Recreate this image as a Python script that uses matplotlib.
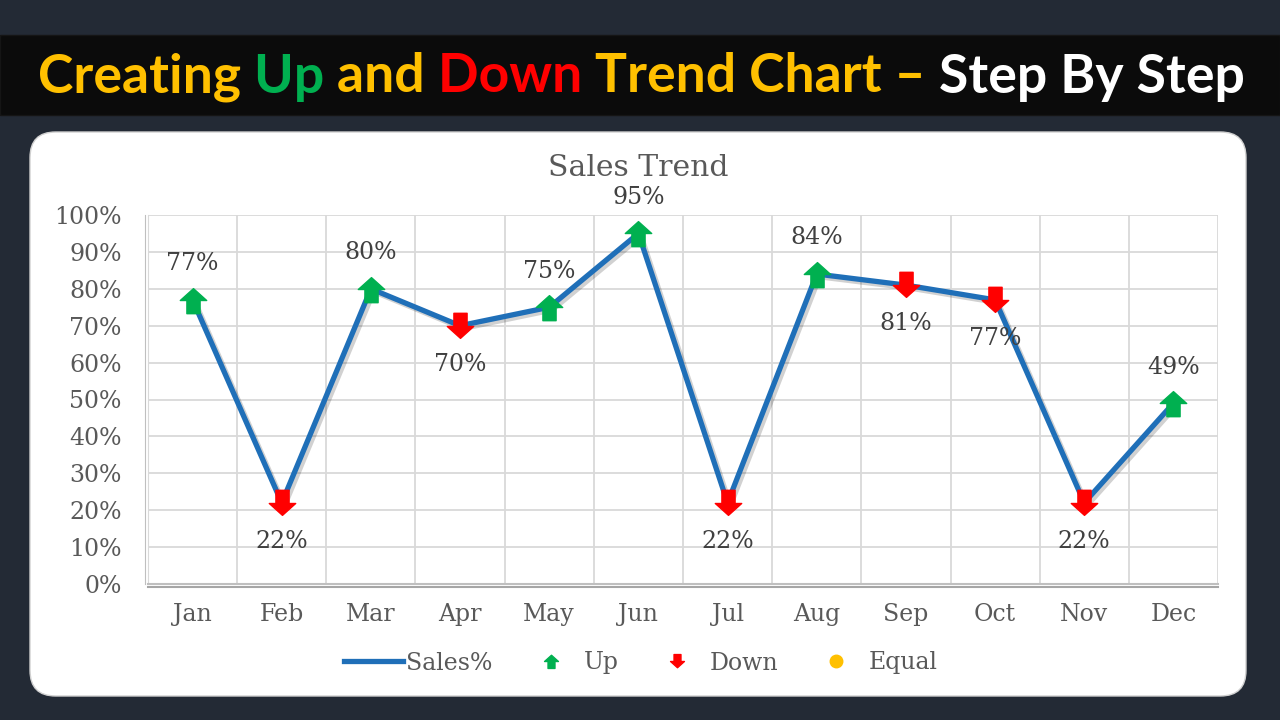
import numpy as np
import matplotlib
matplotlib.use('Agg')
import matplotlib.pyplot as plt
from matplotlib.path import Path
from matplotlib.lines import Line2D
from matplotlib.patches import FancyBboxPatch, Rectangle
import matplotlib.patheffects as pe

# data
months = ['Jan', 'Feb', 'Mar', 'Apr', 'May', 'Jun', 'Jul', 'Aug', 'Sep', 'Oct', 'Nov', 'Dec']
sales = [0.77, 0.22, 0.80, 0.70, 0.75, 0.95, 0.22, 0.84, 0.81, 0.77, 0.22, 0.49]
trend = ['Up', 'Down', 'Up', 'Down', 'Up', 'Up', 'Down', 'Up', 'Down', 'Down', 'Down', 'Up']
yticks = [0, 0.1, 0.2, 0.3, 0.4, 0.5, 0.6, 0.7, 0.8, 0.9, 1.0]

BG = '#232a35'
BLUE = '#1f6fb8'
GREEN = '#00b050'
RED = '#ff0000'
YELLOW = '#ffc000'
GREY_TXT = '#595959'
SERIF = 'DejaVu Serif'

# arrow markers
up_verts = [(-1.0, 0.0), (0.0, 0.9), (1.0, 0.0), (0.5, 0.0), (0.5, -1.0),
            (-0.5, -1.0), (-0.5, 0.0), (-1.0, 0.0)]
up_arrow = Path(up_verts, [Path.MOVETO] + [Path.LINETO] * 6 + [Path.CLOSEPOLY])
down_arrow = Path([(x, -y) for x, y in up_verts], up_arrow.codes)

fig = plt.figure(figsize=(12.8, 7.2), dpi=100)
fig.patch.set_facecolor(BG)

# banner
fig.patches.append(Rectangle((0, 1 - 115 / 720), 1, 80 / 720, transform=fig.transFigure,
                             facecolor='#0b0b0b', edgecolor='#151515', zorder=-2))

# white card
fig.patches.append(FancyBboxPatch((30 / 1280, 1 - 696 / 720), 1216 / 1280, 564 / 720,
                                  boxstyle='round,pad=0,rounding_size=0.02',
                                  transform=fig.transFigure, facecolor='white',
                                  edgecolor='#d0d0d0', linewidth=1, zorder=-2,
                                  mutation_aspect=1280 / 720))

# multi-colour headline, each word chained after the previous one
parts = [('Creating ', '#ffc000'), ('Up ', '#00b050'), ('and ', '#ffc000'),
         ('Down ', '#ff0000'), ('Trend Chart \u2013 ', '#ffc000'), ('Step By Step', 'white')]
head_kw = dict(fontsize=38.5, fontweight='bold', family='Lato', va='center', ha='left')
anchor = fig.text(38 / 1280, 1 - 77 / 720, parts[0][0], color=parts[0][1], **head_kw)
for word, col in parts[1:]:
    anchor = fig.add_artist(plt.Annotation(word, xy=(1, 0.5), xycoords=anchor,
                                           color=col, **head_kw))

# plot area
ax = fig.add_axes([148 / 1280, 1 - 584 / 720, 1070 / 1280, 369 / 720])
x = np.arange(len(months))
ax.set_xlim(-0.5, len(months) - 0.5)
ax.set_ylim(0, 1)

ax.set_yticks(yticks)
ax.set_yticklabels([f'{int(round(t * 100))}%' for t in yticks])
ax.set_xticks(x)
ax.set_xticklabels(months)
ax.set_xticks(np.arange(-0.5, len(months), 1), minor=True)
ax.grid(True, which='major', axis='y', color='#d9d9d9', linewidth=1.3)
ax.grid(True, which='minor', axis='x', color='#d9d9d9', linewidth=1.3)
ax.tick_params(which='both', length=0)
ax.tick_params(axis='y', pad=19, labelsize=17, labelcolor=GREY_TXT)
ax.tick_params(axis='x', pad=14, labelsize=17, labelcolor=GREY_TXT)
for lab in ax.get_xticklabels() + ax.get_yticklabels():
    lab.set_family(SERIF)
for side in ['top', 'right']:
    ax.spines[side].set_visible(False)
ax.spines['left'].set_color('#d9d9d9')
ax.spines['bottom'].set_color('#bfbfbf')
ax.spines['bottom'].set_linewidth(1.5)
ax.spines['bottom'].set_path_effects([pe.SimpleLineShadow(offset=(0, -2), alpha=0.35), pe.Normal()])
ax.spines['left'].set_path_effects([pe.SimpleLineShadow(offset=(-2, 0), alpha=0.25), pe.Normal()])

ax.plot(x, sales, color=BLUE, linewidth=3.8, solid_joinstyle='miter', zorder=3,
        path_effects=[pe.SimpleLineShadow(offset=(2, -2), alpha=0.18), pe.Normal()])

for i, (v, t) in enumerate(zip(sales, trend)):
    up = t == 'Up'
    ax.plot(x[i], v, linestyle='none', marker=up_arrow if up else down_arrow,
            markersize=19, color=GREEN if up else RED, zorder=4)
    ax.annotate(f'{int(round(v * 100))}%', (x[i], v), xytext=(0, 26 if up else -28),
                textcoords='offset points', ha='center', va='center',
                fontsize=17, color='#404040', family=SERIF, zorder=5)

fig.text(638 / 1280, 1 - 168 / 720, 'Sales Trend', ha='center', va='center',
         fontsize=21.5, color=GREY_TXT, family=SERIF)

handles = [Line2D([0], [0], color=BLUE, linewidth=3.8),
           Line2D([0], [0], linestyle='none', marker=up_arrow, markersize=10, color=GREEN),
           Line2D([0], [0], linestyle='none', marker=down_arrow, markersize=10, color=RED),
           Line2D([0], [0], linestyle='none', marker='o', markersize=9, color=YELLOW)]
leg = fig.legend(handles, ['Sales%', 'Up', 'Down', 'Equal'], loc='center',
                 bbox_to_anchor=(641 / 1280, 1 - 663 / 720), ncol=4, frameon=False,
                 prop={'family': SERIF, 'size': 17}, handlelength=2.5,
                 handletextpad=0.15, columnspacing=1.2)
for txt in leg.get_texts():
    txt.set_color(GREY_TXT)

fig.savefig('out.png', dpi=100, facecolor=BG)
